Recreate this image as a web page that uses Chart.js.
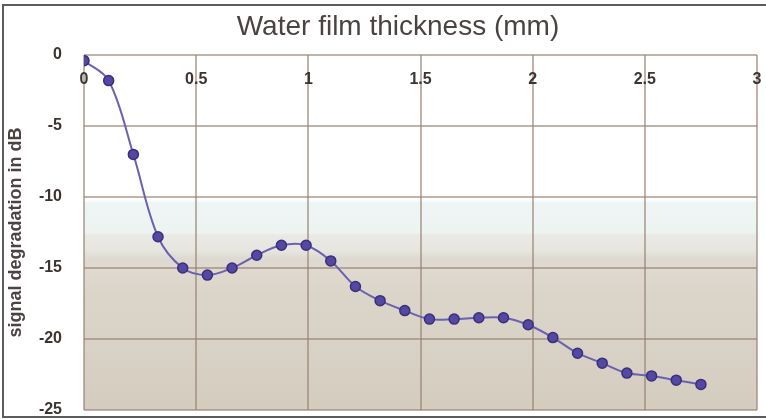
<!DOCTYPE html>
<html>
<head>
<meta charset="utf-8">
<script src="https://cdn.jsdelivr.net/npm/chart.js@4.4.1/dist/chart.umd.min.js"></script>
<style>
  html, body { margin: 0; padding: 0; background: #ffffff; overflow: hidden; }
  #wrap { position: relative; width: 766px; height: 420px; }
  #c { display: block; }
  #frame { position: absolute; left: 2px; top: 4px; width: 800px; height: 410px; border: 2px solid #5c5c5c; pointer-events: none; }
</style>
</head>
<body>
<div id="wrap">
  <canvas id="c" width="766" height="420"></canvas>
  <div id="frame"></div>
</div>
<script>
const chartTitle = 'Water film thickness (mm)';
const yAxisTitle = 'signal degradation in dB';
const thicknessMm = [0, 0.11, 0.22, 0.33, 0.44, 0.55, 0.66, 0.77, 0.88, 0.99, 1.10, 1.21, 1.32, 1.43, 1.54, 1.65, 1.76, 1.87, 1.98, 2.09, 2.20, 2.31, 2.42, 2.53, 2.64, 2.75];
const degradationDb = [-0.4, -1.8, -7.0, -12.8, -15.0, -15.5, -15.0, -14.1, -13.4, -13.4, -14.5, -16.3, -17.3, -18.0, -18.6, -18.6, -18.5, -18.5, -19.0, -19.9, -21.0, -21.7, -22.4, -22.6, -22.9, -23.2];
const xRange = [0, 3];
const xStep = 0.5;
const yRange = [-25, 0];
const yStep = 5;

const points = thicknessMm.map((x, i) => ({ x: x, y: degradationDb[i] }));

const plotBackground = {
  id: 'plotBackground',
  beforeDraw(chart) {
    const { ctx, chartArea: a, scales: { y } } = chart;
    const py = v => y.getPixelForValue(v);
    const g = ctx.createLinearGradient(0, a.top, 0, a.bottom);
    const span = a.bottom - a.top;
    const stop = (v, c) => g.addColorStop(Math.min(1, Math.max(0, (py(v) - a.top) / span)), c);
    stop(0, '#ffffff');
    stop(-10.2, '#ffffff');
    stop(-10.4, '#eef6f5');
    stop(-12.5, '#edf3f1');
    stop(-12.7, '#eae9e4');
    stop(-13.8, '#e7e5df');
    stop(-14.3, '#dedad1');
    stop(-15, '#dfd9cf');
    stop(-17, '#dbd4c9');
    stop(-20, '#d9d2c6');
    stop(-25, '#d4ccbf');
    ctx.save();
    ctx.fillStyle = g;
    ctx.fillRect(a.left, a.top, a.right - a.left, a.bottom - a.top);
    ctx.restore();
  }
};

const gridColor = 'rgba(150,128,112,0.6)';
const tickColor = '#3b3430';

new Chart(document.getElementById('c'), {
  type: 'line',
  data: {
    datasets: [{
      data: points,
      borderColor: '#6a61b0',
      borderWidth: 2,
      tension: 0.35,
      pointRadius: 5,
      pointBackgroundColor: '#5548a2',
      pointBorderColor: '#3a2f7a',
      pointBorderWidth: 1.5,
      fill: false
    }]
  },
  options: {
    responsive: false,
    animation: false,
    events: [],
    layout: { padding: { left: 39, right: 9, top: 0, bottom: 10 } },
    plugins: {
      legend: { display: false },
      tooltip: { enabled: false },
      title: {
        display: true,
        text: chartTitle,
        color: '#4a4341',
        font: { family: 'Liberation Sans', size: 28, weight: 'normal' },
        padding: { top: 10, bottom: 1.4 }
      }
    },
    scales: {
      x: {
        type: 'linear',
        position: 'top',
        min: xRange[0],
        max: xRange[1],
        afterFit(s) { s.height = 10; s.paddingLeft = 0; s.paddingRight = 0; },
        ticks: {
          stepSize: xStep,
          mirror: true,
          padding: 15,
          color: tickColor,
          font: { family: 'Liberation Sans', size: 16, weight: 'bold' },
          callback: v => String(v)
        },
        grid: { color: gridColor, lineWidth: 2, drawTicks: false },
        border: { display: false }
      },
      y: {
        type: 'linear',
        min: yRange[0],
        max: yRange[1],
        afterFit(s) { s.width = 45; s.paddingTop = 0; s.paddingBottom = 0; },
        ticks: {
          stepSize: yStep,
          padding: 22,
          color: tickColor,
          font: { family: 'Liberation Sans', size: 16, weight: 'bold' },
          callback: v => String(v)
        },
        grid: { color: gridColor, lineWidth: 2, drawTicks: false },
        border: { display: false },
        title: {
          display: true,
          text: yAxisTitle,
          color: '#4a4341',
          font: { family: 'Liberation Sans', size: 18, weight: 'bold' },
          padding: { top: -34, bottom: 0 }
        }
      }
    }
  },
  plugins: [plotBackground]
});
</script>
</body>
</html>
